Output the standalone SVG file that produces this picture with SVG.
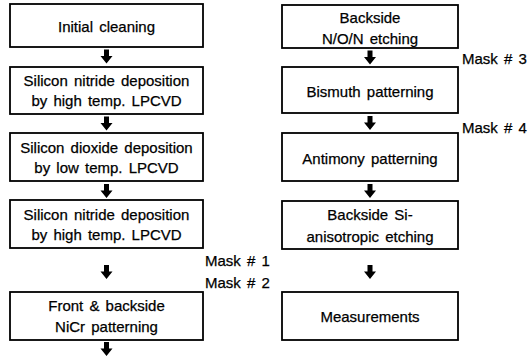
<svg xmlns="http://www.w3.org/2000/svg" xmlns:xlink="http://www.w3.org/1999/xlink" width="528" height="358" viewBox="0 0 528 358">
<style>
.box{fill:#fff;stroke:#000;stroke-width:1.8}
.t{font-family:"Liberation Sans",Arial,sans-serif;font-size:15px;fill:#000;stroke:#000;stroke-width:0.25;text-anchor:middle;word-spacing:2px}
.m{font-family:"Liberation Sans",Arial,sans-serif;font-size:15px;fill:#000;stroke:#000;stroke-width:0.25;word-spacing:2px}
.arr{fill:#000}
</style>
<defs>
<path id="arrow" class="arr" d="M-2.5,0 H2.5 V6.5 H6 L0,14 L-6,6.5 H-2.5 Z"/>
</defs>
<rect width="528" height="358" fill="#fff"/>
<g id="connectors">
<use xlink:href="#arrow" href="#arrow" x="106.5" y="49.5"/>
<use xlink:href="#arrow" href="#arrow" x="106.5" y="116.5"/>
<use xlink:href="#arrow" href="#arrow" x="106.5" y="184"/>
<use xlink:href="#arrow" href="#arrow" x="106.5" y="265"/>
<use xlink:href="#arrow" href="#arrow" x="106.5" y="342"/>
<use xlink:href="#arrow" href="#arrow" x="370" y="50.5"/>
<use xlink:href="#arrow" href="#arrow" x="370" y="116"/>
<use xlink:href="#arrow" href="#arrow" x="370" y="184"/>
<use xlink:href="#arrow" href="#arrow" x="370" y="265"/>
</g>
<g id="n1"><rect class="box" x="10" y="4" width="193" height="43"/><text class="t" x="106.5" y="32">Initial cleaning</text></g>
<g id="n2"><rect class="box" x="10" y="67" width="193" height="47"/><text class="t" x="106.5" y="86">Silicon nitride deposition</text><text class="t" x="106.5" y="106">by high temp. LPCVD</text></g>
<g id="n3"><rect class="box" x="10" y="133" width="193" height="48"/><text class="t" x="106.5" y="153">Silicon dioxide deposition</text><text class="t" x="106.5" y="173">by low temp. LPCVD</text></g>
<g id="n4"><rect class="box" x="10" y="200" width="193" height="48"/><text class="t" x="106.5" y="220">Silicon nitride deposition</text><text class="t" x="106.5" y="240">by high temp. LPCVD</text></g>
<g id="n5"><rect class="box" x="10" y="292" width="193" height="48"/><text class="t" x="106.5" y="311">Front &amp; backside</text><text class="t" x="106.5" y="332">NiCr patterning</text></g>
<g id="n6"><rect class="box" x="282" y="5" width="176" height="43"/><text class="t" x="370" y="23">Backside</text><text class="t" x="370" y="44">N/O/N etching</text></g>
<g id="n7"><rect class="box" x="282" y="67" width="176" height="46"/><text class="t" x="370" y="97">Bismuth patterning</text></g>
<g id="n8"><rect class="box" x="282" y="133" width="176" height="48"/><text class="t" x="370" y="164">Antimony patterning</text></g>
<g id="n9"><rect class="box" x="282" y="201" width="176" height="48"/><text class="t" x="370" y="220">Backside Si-</text><text class="t" x="370" y="242">anisotropic etching</text></g>
<g id="n10"><rect class="box" x="282" y="292" width="176" height="48"/><text class="t" x="370" y="322">Measurements</text></g>
<g id="labels">
<text class="m" x="205" y="266">Mask # 1</text>
<text class="m" x="205" y="288">Mask # 2</text>
<text class="m" x="462" y="64">Mask # 3</text>
<text class="m" x="462" y="133">Mask # 4</text>
</g>
</svg>
